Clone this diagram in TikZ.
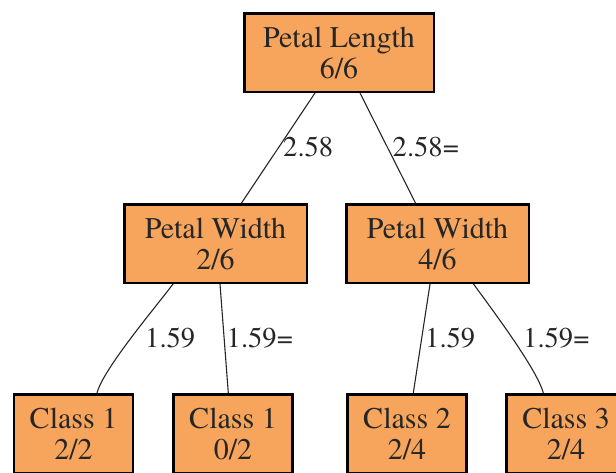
\documentclass[tikz,border=0pt]{standalone}
\usepackage{fontspec}
\setmainfont{TeX Gyre Termes}
\definecolor{boxfill}{RGB}{247,165,92}
\tikzset{
  treebox/.style={draw=black, line width=2.5pt, fill=boxfill, inner sep=0pt,
    align=center, font=\fontsize{30}{31}\selectfont, text=black!85},
  splitbox/.style={treebox, minimum width=182.5pt, minimum height=78.5pt},
  leafbox/.style={treebox, minimum width=119pt, minimum height=78.5pt},
  branch/.style={draw=black!85, line width=1.1pt},
  cut/.style={anchor=base west, inner sep=0pt, font=\fontsize{28.6}{30}\selectfont, text=black!85}
}
\begin{document}
\begin{tikzpicture}[x=1pt, y=-1pt]
  \useasboundingbox (0,0) rectangle (616,472);
  \clip (0,0) rectangle (616,472);

  % decision nodes
  \node[treebox, minimum width=189.5pt, minimum height=78.5pt] (root) at (339,52.5) {Petal Length\\6/6};
  \node[splitbox] (pwl) at (215.5,243.5) {Petal Width\\2/6};
  \node[splitbox] (pwr) at (437.5,243.5) {Petal Width\\4/6};

  % leaves
  \node[leafbox] (c1a) at (73.5,433.5) {Class 1\\2/2};
  \node[leafbox] (c1b) at (233,433.5) {Class 1\\0/2};
  \node[leafbox] (c2) at (407,433.5) {Class 2\\2/4};
  \node[leafbox] (c3) at (566,433.5) {Class 3\\2/4};

  % branches of the root
  \draw[branch] ([xshift=-24pt]root.south) -- ([xshift=26pt]pwl.north);
  \draw[branch] ([xshift=21pt]root.south) -- ([xshift=-22pt]pwr.north);

  % branches of the petal-width splits
  \draw[branch] ([xshift=-42.5pt]pwl.south) .. controls +(-14,19) and +(6,-24) .. ([xshift=23.5pt]c1a.north);
  \draw[branch] ([xshift=4.5pt]pwl.south) -- ([xshift=-4.7pt]c1b.north);
  \draw[branch] ([xshift=-7.5pt]pwr.south) -- ([xshift=6.3pt]c2.north);
  \draw[branch] ([xshift=36pt]pwr.south) .. controls +(13,18) and +(-6,-24) .. ([xshift=-22.7pt]c3.north);

  % threshold labels
  \node[cut] (l1) at (283,156) {2.58};
  \node[cut] (l2) at (392.5,156) {2.58=};
  \node[cut] (l3) at (145,347.5) {1.59};
  \node[cut] (l4) at (226.5,347.5) {1.59=};
  \node[cut] (l5) at (425,347.5) {1.59};
  \node[cut] (l6) at (523,347.5) {1.59=};
\end{tikzpicture}
\end{document}
